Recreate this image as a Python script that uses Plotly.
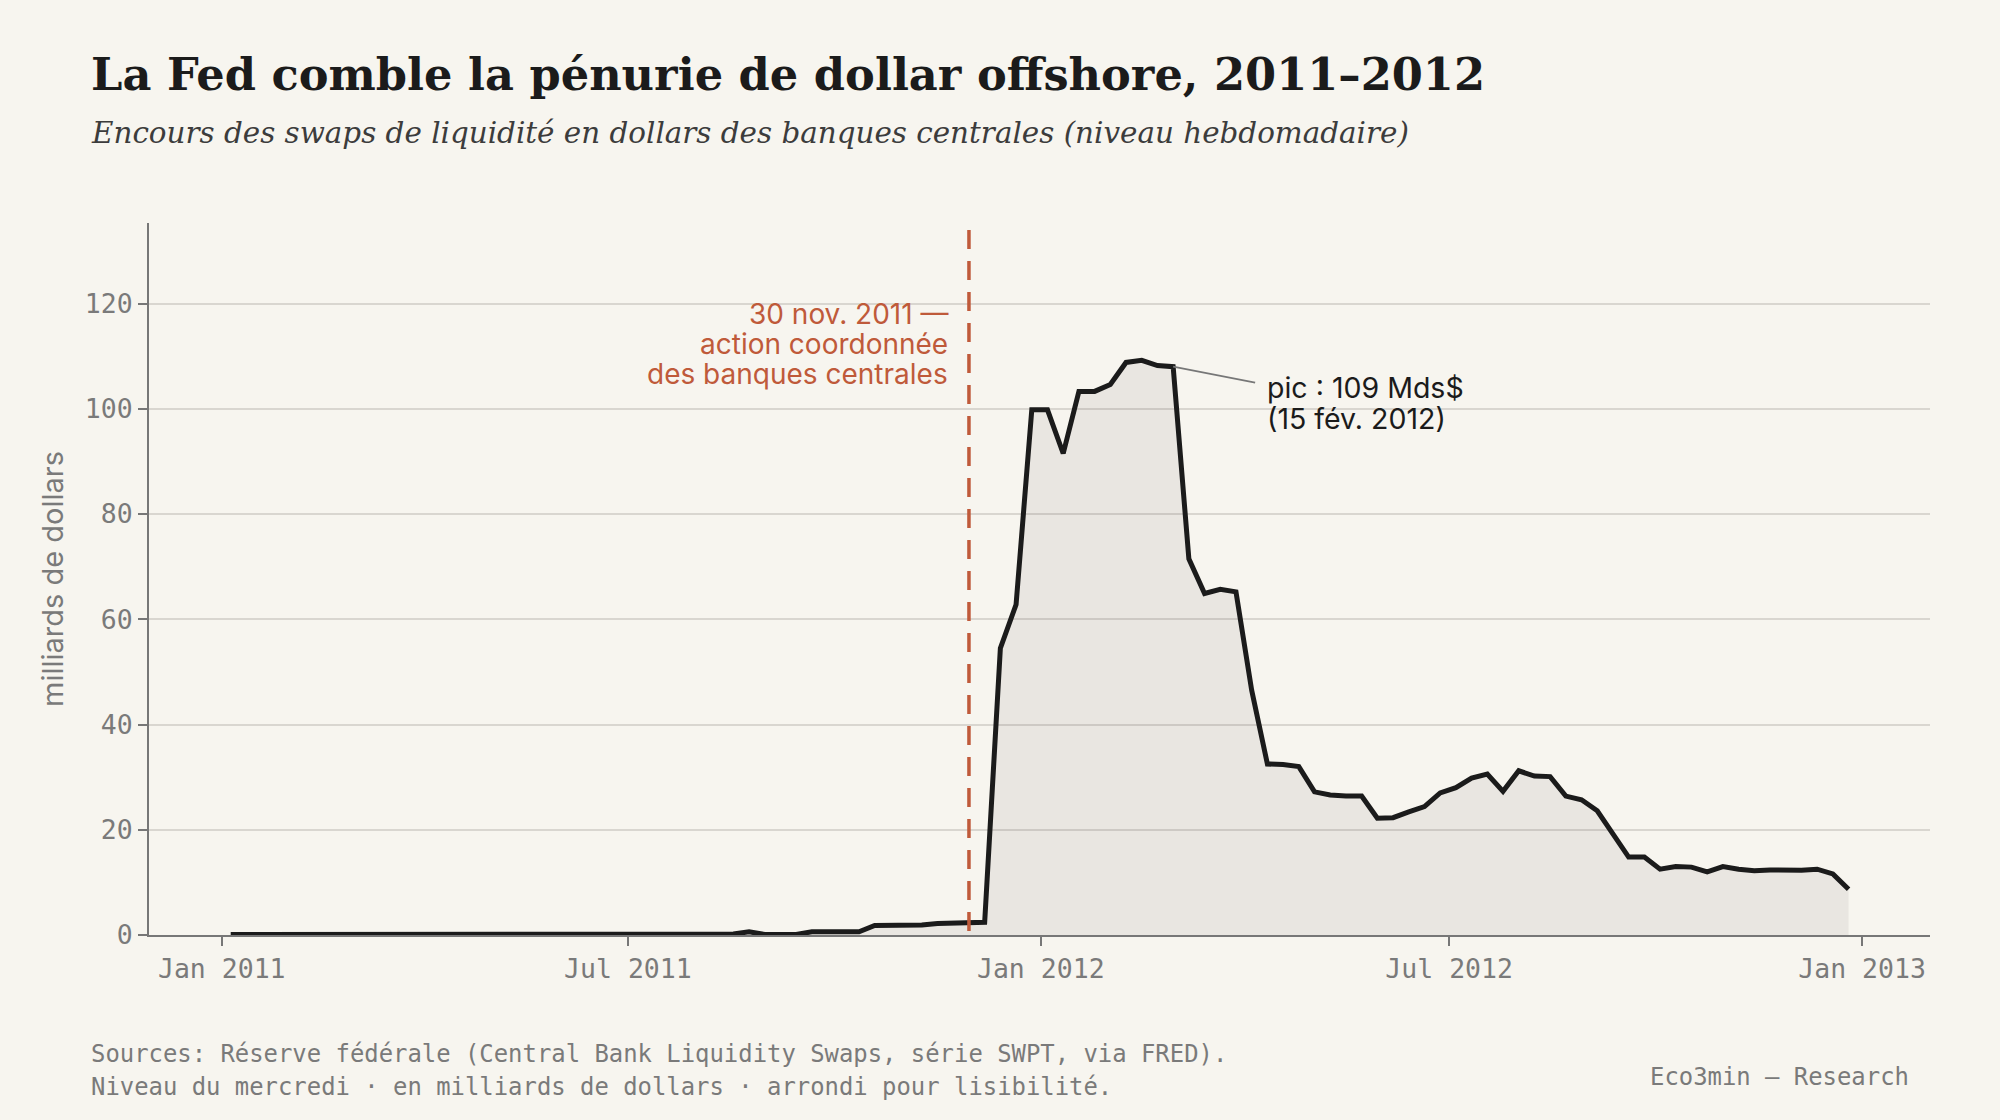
import pandas as pd
import plotly.graph_objects as go

# Weekly (Wednesday) dates, Jan 2011 - Dec 2012
dates = pd.date_range("2011-01-05", "2012-12-26", freq="W-WED")

# Outstanding central bank liquidity swaps, billions of USD
values_2011 = [
    0.1, 0.1, 0.1, 0.1, 0.1, 0.1, 0.1, 0.1, 0.1, 0.0,
    0.0, 0.0, 0.0, 0.0, 0.0, 0.0, 0.0, 0.0, 0.0, 0.0,
    0.0, 0.0, 0.0, 0.0, 0.0, 0.0, 0.0, 0.0, 0.0, 0.0,
    0.0, 0.0, 0.2, 0.6, 0.1, 0.1, 0.1, 0.6, 0.6, 0.6,
    0.6, 1.8, 1.8, 1.8, 1.9, 2.2, 2.3, 2.4, 2.4, 54.5,
    62.8, 99.8,
]
values_2012 = [
    99.8, 91.5, 103.3, 103.3, 104.6, 108.8, 109.2, 108.2, 108.0, 71.5,
    64.9, 65.7, 65.2, 46.5, 32.5, 32.4, 32.0, 27.2, 26.6, 26.4,
    26.4, 22.2, 22.3, 23.4, 24.4, 27.0, 28.0, 29.8, 30.6, 27.3,
    31.2, 30.2, 30.1, 26.4, 25.7, 23.6, 19.4, 14.8, 14.8, 12.5,
    13.0, 12.9, 12.0, 13.0, 12.5, 12.2, 12.35, 12.3, 12.3, 12.5,
    11.6, 8.7,
]
values = values_2011 + values_2012

event_date = "2011-11-30"
event_lines = ["30 nov. 2011 —", "action coordonnée", "des banques centrales"]
event_line_y = [118.0, 112.3, 106.6]

peak_pointer_date = "2012-02-29"
peak_pointer_value = 108.0
peak_lines = ["pic : 109 Mds$", "(15 fév. 2012)"]
peak_line_shift = [-21, -52]

y_ticks = [0, 20, 40, 60, 80, 100, 120]
x_tickvals = ["2011-01-01", "2011-07-01", "2012-01-01", "2012-07-01", "2013-01-01"]
x_ticktext = ["Jan 2011", "Jul 2011", "Jan 2012", "Jul 2012", "Jan 2013"]

BG = "#f7f5ef"
INK = "#1b1b1b"
GREY = "#7a7a7a"
RUST = "#bf5a3a"
MONO = "DejaVu Sans Mono"
SANS = "Inter"
SERIF = "DejaVu Serif"

fig = go.Figure()
fig.add_trace(go.Scatter(
    x=dates, y=values, mode="lines",
    line=dict(color=INK, width=5),
    fill="tozeroy", fillcolor="rgba(40,35,25,0.065)",
    hoverinfo="skip", showlegend=False,
))

# event line (30 Nov 2011), drawn top-down so the dash pattern starts at the top
fig.add_shape(type="line", xref="x", yref="paper", x0=event_date, x1=event_date,
              y0=0.99, y1=0, line=dict(color=RUST, width=3.5, dash="19px,12px"), layer="above")

# peak leader line
fig.add_shape(type="line", xref="x", yref="y", xsizemode="pixel", ysizemode="pixel",
              xanchor=peak_pointer_date, yanchor=peak_pointer_value,
              x0=0, x1=82, y0=0, y1=-16, line=dict(color="#777777", width=1.6))

annotations = []
for txt, yv in zip(event_lines, event_line_y):
    annotations.append(dict(
        x=event_date, y=yv, xref="x", yref="y", xanchor="right", yanchor="middle",
        xshift=-19, align="right", showarrow=False, text=txt,
        font=dict(family=SANS, size=28, color=RUST)))
for txt, sh in zip(peak_lines, peak_line_shift):
    annotations.append(dict(
        x=peak_pointer_date, y=peak_pointer_value, xref="x", yref="y", xanchor="left",
        yanchor="middle", xshift=92, yshift=sh, align="left", showarrow=False, text=txt,
        font=dict(family=SANS, size=28.5, color=INK)))

annotations += [
    dict(x=-0.0337, y=1.209, xref="paper", yref="paper", xanchor="left", yanchor="middle",
         showarrow=False, text="<b>La Fed comble la pénurie de dollar offshore, 2011–2012</b>",
         font=dict(family=SERIF, size=44.7, color=INK)),
    dict(x=-0.0337, y=1.126, xref="paper", yref="paper", xanchor="left", yanchor="middle",
         showarrow=False,
         text="<i>Encours des swaps de liquidité en dollars des banques centrales (niveau hebdomadaire)</i>",
         font=dict(family=SERIF, size=29.4, color="#3c3c3c")),
    dict(x=-0.0545, y=0.5, xref="paper", yref="paper", xanchor="center", yanchor="middle",
         textangle=-90, showarrow=False, text="milliards de dollars",
         font=dict(family=SANS, size=29, color=GREY)),
    dict(x=-0.0337, y=-0.167, xref="paper", yref="paper", xanchor="left", yanchor="middle",
         showarrow=False,
         text="Sources: Réserve fédérale (Central Bank Liquidity Swaps, série SWPT, via FRED).",
         font=dict(family=MONO, size=23.9, color=GREY)),
    dict(x=-0.0337, y=-0.213, xref="paper", yref="paper", xanchor="left", yanchor="middle",
         showarrow=False,
         text="Niveau du mercredi · en milliards de dollars · arrondi pour lisibilité.",
         font=dict(family=MONO, size=23.9, color=GREY)),
    dict(x=0.9895, y=-0.199, xref="paper", yref="paper", xanchor="right", yanchor="middle",
         showarrow=False, text="Eco3min — Research",
         font=dict(family=MONO, size=23.9, color=GREY)),
]

fig.update_layout(
    width=2000, height=1120,
    paper_bgcolor=BG, plot_bgcolor=BG,
    margin=dict(l=149, r=70, t=223, b=185),
    annotations=annotations,
    showlegend=False,
)
fig.update_xaxes(
    type="date", range=["2010-11-29 14:00", "2013-01-31 07:00"],
    tickvals=x_tickvals, ticktext=x_ticktext,
    showgrid=False, showline=True, linecolor="#777777", linewidth=2,
    ticks="outside", ticklen=9, tickwidth=2, tickcolor="#777777",
    tickfont=dict(family=MONO, size=26.5, color=GREY), zeroline=False,
)
fig.update_yaxes(
    range=[0, 135.3], tickvals=y_ticks,
    showgrid=True, gridcolor="#d9d6d0", gridwidth=1.5,
    showline=True, linecolor="#777777", linewidth=2,
    ticks="outside", ticklen=9, tickwidth=2, tickcolor="#777777",
    tickfont=dict(family=MONO, size=26.5, color=GREY), zeroline=False,
)

fig.write_html("out.html")
